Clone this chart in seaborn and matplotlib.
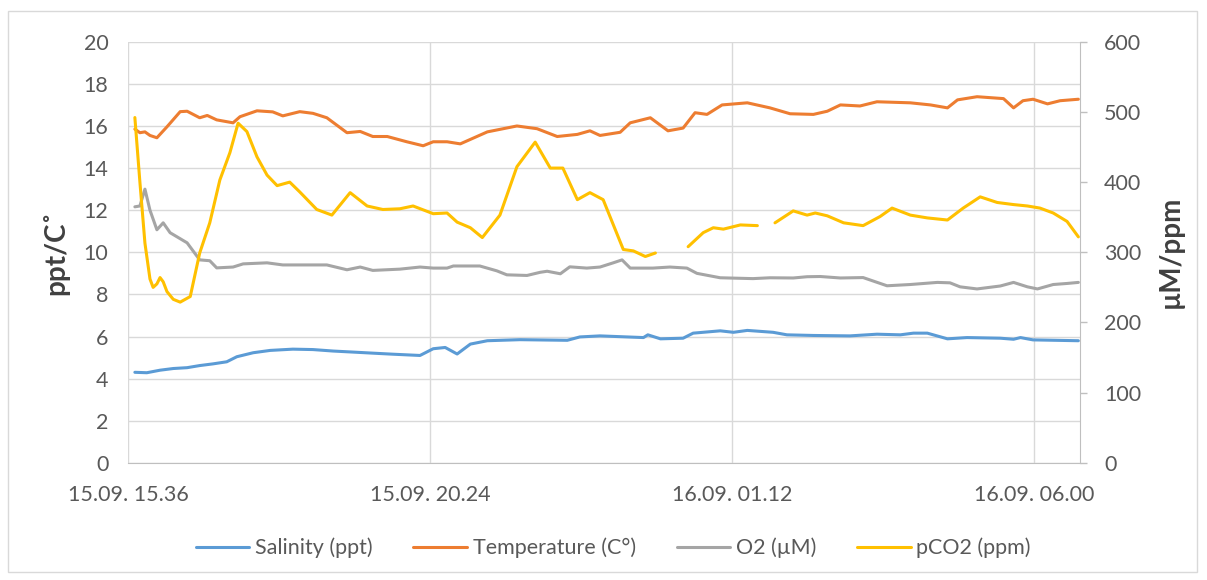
import numpy as np
import pandas as pd
import matplotlib
matplotlib.use('Agg')
import matplotlib.pyplot as plt
from matplotlib.lines import Line2D
from matplotlib.patches import Rectangle
import seaborn as sns

# hours after 15.09. 15.36
TICK_HOURS  = [0, 4.8, 9.6, 14.4]
TICK_LABELS = ['15.09. 15.36', '15.09. 20.24', '16.09. 01.12', '16.09. 06.00']

sal_h = [0.11, 0.30, 0.51, 0.72, 0.94, 1.14, 1.35, 1.57, 1.73, 1.99, 2.26, 2.62, 2.94,
         3.26, 3.58, 3.89, 4.21, 4.64, 4.85, 5.04, 5.23, 5.44, 5.71, 6.23, 6.98, 7.18,
         7.50, 8.19, 8.26, 8.46, 8.82, 8.98, 9.41, 9.62, 9.84, 10.25, 10.47, 10.89,
         11.47, 11.90, 12.27, 12.48, 12.70, 13.02, 13.33, 13.86, 14.07, 14.18, 14.38,
         14.92, 15.10]
sal_v = [4.30, 4.28, 4.40, 4.48, 4.52, 4.62, 4.70, 4.80, 5.04, 5.23, 5.34, 5.40, 5.38,
         5.31, 5.26, 5.21, 5.16, 5.10, 5.42, 5.48, 5.17, 5.64, 5.80, 5.85, 5.82, 5.98,
         6.03, 5.95, 6.08, 5.89, 5.92, 6.16, 6.27, 6.20, 6.29, 6.20, 6.08, 6.05,
         6.03, 6.11, 6.08, 6.16, 6.16, 5.89, 5.95, 5.92, 5.87, 5.95, 5.84,
         5.81, 5.80]

temp_h = [0.11, 0.19, 0.27, 0.35, 0.46, 0.62, 0.83, 0.94, 1.14, 1.26, 1.41, 1.67, 1.78,
          2.05, 2.30, 2.46, 2.73, 2.94, 3.16, 3.48, 3.69, 3.89, 4.12, 4.43, 4.69, 4.85,
          5.07, 5.28, 5.71, 6.18, 6.50, 6.82, 7.14, 7.34, 7.50, 7.82, 7.98, 8.30, 8.58,
          8.82, 9.01, 9.20, 9.44, 9.84, 10.20, 10.52, 10.89, 11.11, 11.32, 11.63, 11.90,
          12.43, 12.75, 13.02, 13.18, 13.49, 13.91, 14.07, 14.22, 14.38, 14.61, 14.81, 15.10]
temp_v = [15.85, 15.68, 15.72, 15.55, 15.44, 15.96, 16.68, 16.70, 16.39, 16.50, 16.29, 16.15, 16.44,
          16.72, 16.67, 16.48, 16.68, 16.60, 16.39, 15.68, 15.74, 15.50, 15.50, 15.25, 15.06, 15.25,
          15.25, 15.15, 15.72, 16.00, 15.87, 15.50, 15.60, 15.77, 15.55, 15.70, 16.15, 16.39, 15.77,
          15.90, 16.63, 16.55, 17.00, 17.10, 16.86, 16.58, 16.55, 16.70, 17.00, 16.95, 17.15,
          17.10, 17.00, 16.86, 17.24, 17.39, 17.30, 16.86, 17.20, 17.27, 17.05, 17.20, 17.27]

o2_h = [0.11, 0.19, 0.27, 0.35, 0.46, 0.56, 0.67, 0.94, 1.14, 1.30, 1.41, 1.67, 1.83,
        2.21, 2.46, 2.73, 3.16, 3.48, 3.69, 3.89, 4.32, 4.64, 4.85, 5.07, 5.17, 5.59,
        5.86, 6.02, 6.34, 6.55, 6.66, 6.87, 7.02, 7.29, 7.50, 7.71, 7.85, 7.98, 8.34,
        8.61, 8.88, 9.04, 9.41, 9.93, 10.20, 10.57, 10.79, 11.00, 11.32, 11.68, 12.06,
        12.43, 12.86, 13.06, 13.22, 13.49, 13.86, 14.07, 14.29, 14.45, 14.70, 14.92, 15.10]
o2_v = [12.16, 12.20, 13.00, 12.00, 11.07, 11.40, 10.93, 10.45, 9.64, 9.60, 9.26, 9.30, 9.45,
        9.50, 9.40, 9.40, 9.40, 9.17, 9.30, 9.14, 9.20, 9.30, 9.25, 9.25, 9.35, 9.35,
        9.12, 8.93, 8.90, 9.05, 9.10, 8.98, 9.31, 9.25, 9.30, 9.50, 9.64, 9.25, 9.25,
        9.30, 9.25, 9.00, 8.79, 8.75, 8.79, 8.78, 8.84, 8.85, 8.78, 8.80, 8.41,
        8.47, 8.57, 8.55, 8.36, 8.26, 8.40, 8.57, 8.36, 8.26, 8.47, 8.52, 8.57]

# NaN = gap in the pCO2 record
pco2_h = [0.11, 0.19, 0.27, 0.35, 0.40, 0.46, 0.51, 0.56, 0.62, 0.72, 0.83, 0.99, 1.14,
          1.30, 1.46, 1.62, 1.75, 1.89, 2.05, 2.21, 2.37, 2.57, 2.73, 3.00, 3.24, 3.53,
          3.80, 4.05, 4.32, 4.53, 4.85, 5.07, 5.23, 5.44, 5.63, 5.91, 6.18, 6.47, 6.71,
          6.91, 7.14, 7.34, 7.55, 7.87, 8.03, 8.22, 8.38, 8.60, 8.90, 9.14, 9.30, 9.46,
          9.73, 10.00, 10.15, 10.28, 10.57, 10.79, 10.92, 11.11, 11.37, 11.68, 11.95,
          12.14, 12.43, 12.70, 13.02, 13.27, 13.54, 13.81, 14.07, 14.29, 14.49, 14.70,
          14.92, 15.10]
pco2_v = [492, 400, 313, 262, 250, 255, 264, 258, 244, 233, 229, 237, 299,
          342, 403, 442, 484, 472, 436, 410, 395, 400, 386, 361, 353, 385,
          366, 361, 362, 366, 355, 356, 343, 335, 321, 353, 422, 457, 420,
          420, 375, 385, 375, 304, 302, 294, 299, np.nan, 308, 328, 335, 333,
          339, 338, np.nan, 342, 359, 353, 356, 352, 342, 338, 351,
          363, 353, 349, 346, 363, 379, 371, 368, 366, 363, 356,
          344, 322]

NAMES  = ['Salinity (ppt)', 'Temperature (C°)', 'O2 (µM)', 'pCO2 (ppm)']
COLORS = ['#5B9BD5', '#ED7D31', '#A5A5A5', '#FFC000']

sns.set_style('white')
plt.rcParams['font.family'] = ['Lato', 'DejaVu Sans']
plt.rcParams['lines.solid_joinstyle'] = 'round'
plt.rcParams['lines.solid_capstyle'] = 'round'

fig = plt.figure(figsize=(12.07, 5.8), dpi=100)
ax = fig.add_axes([0.106, 0.202, 0.789, 0.726])
ax2 = ax.twinx()

LW = 2.2
sns.lineplot(x=sal_h, y=sal_v, ax=ax, color=COLORS[0], lw=LW)
sns.lineplot(x=temp_h, y=temp_v, ax=ax, color=COLORS[1], lw=LW)
sns.lineplot(x=o2_h, y=o2_v, ax=ax, color=COLORS[2], lw=LW)

pco2 = pd.DataFrame({'h': pco2_h, 'v': pco2_v})
pco2['seg'] = pco2['v'].isna().cumsum()
pco2 = pco2.dropna()
sns.lineplot(data=pco2, x='h', y='v', units='seg', estimator=None,
             ax=ax2, color=COLORS[3], lw=LW)

# axes look
ax.set_xlim(0, 15.13)
ax.set_ylim(0, 20)
ax2.set_ylim(0, 600)
ax.set_yticks(range(0, 21, 2))
ax2.set_yticks(range(0, 601, 100))
ax.set_xticks(TICK_HOURS)
ax.set_xticklabels(TICK_LABELS)

ax.grid(True, color='#D9D9D9', lw=1)
ax.set_axisbelow(True)
for sp in ['left', 'top']:
    ax.spines[sp].set_visible(False)
    ax2.spines[sp].set_visible(False)
ax.spines['right'].set_visible(False)
ax2.spines['bottom'].set_visible(False)
ax.spines['bottom'].set_color('#BFBFBF')
ax2.spines['right'].set_color('#BFBFBF')

ax.tick_params(axis='x', length=0, pad=16, labelsize=15.5, labelcolor='#595959')
ax.tick_params(axis='y', length=0, pad=14, labelsize=15.5, labelcolor='#595959')
ax2.tick_params(axis='y', length=5, width=1, color='#BFBFBF', pad=12,
                labelsize=15.5, labelcolor='#595959')

ax.set_xlabel('')
ax.set_ylabel('ppt/C˚', fontsize=20, fontweight='bold', color='#404040', labelpad=10)
ax2.set_ylabel('µM/ppm', fontsize=20, fontweight='bold', color='#404040', labelpad=12)

handles = [Line2D([], [], color=c, lw=LW) for c in COLORS]
fig.legend(handles, NAMES, loc='center', bbox_to_anchor=(0.508, 0.055), ncol=4,
           frameon=False, fontsize=15.5, handlelength=2.5, handletextpad=0.25,
           columnspacing=1.9, labelcolor='#595959')

fig.patches.append(Rectangle((0.007, 0.014), 0.985, 0.967, transform=fig.transFigure,
                             fill=False, edgecolor='#D9D9D9', lw=1))

fig.savefig('out.png', dpi=100)
